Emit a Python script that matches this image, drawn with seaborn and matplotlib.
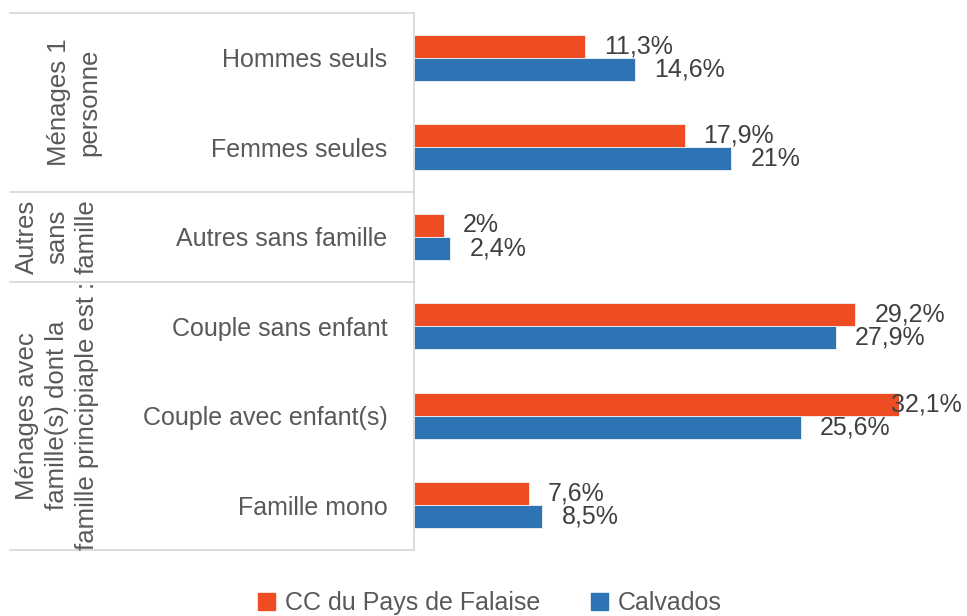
import matplotlib
matplotlib.use("Agg")
import matplotlib.pyplot as plt
import seaborn as sns
import pandas as pd

categories = ["Hommes seuls", "Femmes seules", "Autres sans famille",
              "Couple sans enfant", "Couple avec enfant(s)", "Famille mono"]
falaise = [11.3, 17.9, 2.0, 29.2, 32.1, 7.6]
calvados = [14.6, 21.0, 2.4, 27.9, 25.6, 8.5]
series_names = ["CC du Pays de Falaise", "Calvados"]

groups = ["Ménages 1\npersonne", "Autres\nsans\nfamille",
          "Ménages avec\nfamille(s) dont la\nfamille principiaple est :"]
group_spans = [(0, 1), (2, 2), (3, 5)]

colors = ["#EE4D23", "#2E74B5"]

df = pd.DataFrame({
    "categorie": categories * 2,
    "valeur": falaise + calvados,
    "serie": [series_names[0]] * len(categories) + [series_names[1]] * len(categories),
})

sns.set_theme(style="white")
plt.rcParams["font.family"] = ["Liberation Sans", "DejaVu Sans"]

W, H = 967, 616
fig = plt.figure(figsize=(W / 100, H / 100), dpi=100)
ax_left, ax_right, ax_top, ax_bot = 414, 944, 13, 550
ax = fig.add_axes([ax_left / W, 1 - ax_bot / H, (ax_right - ax_left) / W, (ax_bot - ax_top) / H])

sns.barplot(data=df, y="categorie", x="valeur", hue="serie", orient="h",
            palette=colors, saturation=1, width=0.515, ax=ax,
            edgecolor="#F2F2F2", linewidth=0.6, legend=False)

ax.set_xlim(0, 35.07)
ax.set_ylim(5.5, -0.5)
ax.set_xlabel("")
ax.set_ylabel("")
ax.set_xticks([])
ax.tick_params(axis="y", length=0, pad=19, labelsize=18, labelcolor="#595959")
for s in ["top", "right", "bottom"]:
    ax.spines[s].set_visible(False)
ax.spines["left"].set_color("#D9D9D9")
ax.spines["left"].set_linewidth(1.3)


def fmt(v):
    return f"{v:g}".replace(".", ",") + "%"


# value labels
px_per_unit = (ax_right - ax_left) / 35.07
for cont in ax.containers:
    for bar in cont:
        v = bar.get_width()
        end_px = ax_left + v * px_per_unit
        off = 19 if end_px + 19 + 74 < W else (W - 2 - 74) - end_px
        ax.annotate(fmt(v), (v, bar.get_y() + bar.get_height() / 2),
                    xytext=(off * 0.72, 0), textcoords="offset points",
                    ha="left", va="center", fontsize=18, color="#404040",
                    annotation_clip=False)


def ax_x(px):
    return (px - ax_left) / (ax_right - ax_left)


# table lines on the left
ytr = ax.get_yaxis_transform()
for yb in [-0.5, 1.5, 2.5, 5.5]:
    ax.plot([ax_x(10), 0], [yb, yb], transform=ytr, color="#D9D9D9",
            lw=1.3, clip_on=False)

group_x = [74, 57, 57]
for g, (a, b), gx in zip(groups, group_spans, group_x):
    ax.text(ax_x(gx), (a + b) / 2, g, transform=ytr, rotation=90,
            ha="center", va="center", fontsize=18.5, color="#595959",
            linespacing=1.3, multialignment="center")

# legend
handles = [plt.Rectangle((0, 0), 1, 1, color=c) for c in colors]
fig.legend(handles, series_names, loc="center", bbox_to_anchor=(490 / W, 1 - 603 / H),
           ncol=2, frameon=False, fontsize=18, handlelength=0.7, handleheight=0.7,
           columnspacing=2.0, handletextpad=0.4, labelcolor="#595959")

fig.savefig("out.png", dpi=100)
